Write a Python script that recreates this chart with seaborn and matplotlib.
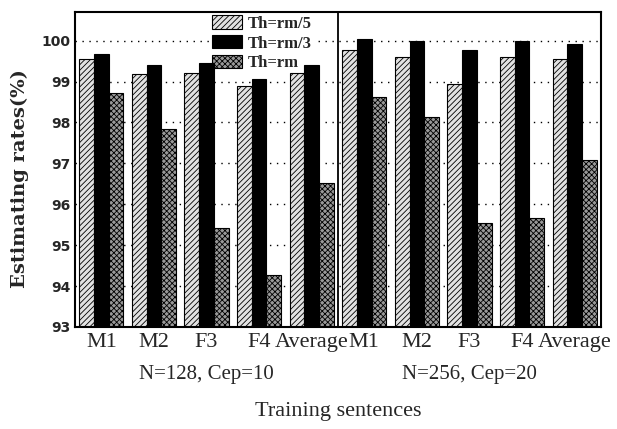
import numpy as np
import pandas as pd
import matplotlib
matplotlib.use("Agg")
import matplotlib.pyplot as plt
import matplotlib.transforms as mtransforms
import seaborn as sns

# values
settings = ["N=128, Cep=10", "N=256, Cep=20"]
speakers = ["M1", "M2", "F3", "F4", "Average"]
thresholds = ["Th=rm/5", "Th=rm/3", "Th=rm"]

rm5_128 = [99.54, 99.19, 99.22, 98.90, 99.22]
rm3_128 = [99.68, 99.41, 99.46, 99.07, 99.41]
rm1_128 = [98.73, 97.85, 95.43, 94.28, 96.53]

rm5_256 = [99.78, 99.61, 98.95, 99.61, 99.56]
rm3_256 = [100.05, 100.0, 99.78, 100.0, 99.93]
rm1_256 = [98.63, 98.14, 95.55, 95.67, 97.09]

values = {
    settings[0]: [rm5_128, rm3_128, rm1_128],
    settings[1]: [rm5_256, rm3_256, rm1_256],
}

rows = []
for s in settings:
    for t, vals in zip(thresholds, values[s]):
        for sp, v in zip(speakers, vals):
            rows.append({"key": s + "|" + sp, "setting": s, "speaker": sp,
                         "threshold": t, "rate": v})
df = pd.DataFrame(rows)
order = [s + "|" + sp for s in settings for sp in speakers]

sns.set_style("white")
plt.rcParams['hatch.linewidth'] = 0.6
plt.rcParams['hatch.color'] = 'black'

fig = plt.figure(figsize=(6.17, 4.29), dpi=100)
ax = fig.add_axes([0.1216, 0.2378, 0.974 - 0.1216, 0.972 - 0.2378])

sns.barplot(
    data=df, x="key", y="rate", hue="threshold",
    order=order, hue_order=thresholds,
    palette=["#e2e2e2", "#000000", "#999999"],
    width=0.84, edgecolor="black", linewidth=0.8,
    legend=False, ax=ax,
)

hatches = ["//////", None, "xxxxxx"]
for cont, h in zip(ax.containers, hatches):
    for p in cont:
        p.set_zorder(2)
        if h:
            p.set_hatch(h)

ax.set_ylim(93, 100.7)
ax.set_yticks(range(93, 101))
ax.set_yticklabels([str(v) for v in range(93, 101)],
                   fontdict={"family": "DejaVu Sans", "weight": "bold", "size": 10})
ax.yaxis.grid(True, color="black", linestyle=(0, (1, 4)), linewidth=1.0)
ax.set_axisbelow(True)
ax.tick_params(axis="y", direction="in", length=3, pad=3)
ax.tick_params(axis="x", length=0, pad=4)

ax.set_xticks(range(len(order)))
ax.set_xticklabels([k.split("|")[1] for k in order],
                   fontdict={"family": "Liberation Serif", "size": 16})
ax.set_xlim(-0.5, len(order) - 0.5)

for sp in ax.spines.values():
    sp.set_color("black")
    sp.set_linewidth(1.5)

ax.axvline(len(speakers) - 0.5, color="black", linewidth=1.3, zorder=3)

trans = mtransforms.blended_transform_factory(ax.transData, ax.transAxes)
for i, s in enumerate(settings):
    ax.text(i * len(speakers) + (len(speakers) - 1) / 2, -0.15, s,
            transform=trans, ha="center", va="center",
            family="Liberation Serif", fontsize=15)

ax.set_xlabel("Training sentences", family="Liberation Serif", fontsize=16,
              labelpad=36)
ax.set_ylabel("Estimating rates(%)", family="DejaVu Serif", fontweight="bold",
              fontsize=14, labelpad=4)
ax.yaxis.set_label_coords(-0.087, 0.47)

leg = ax.legend(ax.containers, thresholds, loc="upper left",
                bbox_to_anchor=(0.255, 1.0), frameon=True,
                prop={"family": "Liberation Serif", "weight": "bold", "size": 12},
                handlelength=1.8, handleheight=0.85, labelspacing=0.2,
                handletextpad=0.3, borderpad=0.1, borderaxespad=0.1)
leg.get_frame().set_facecolor("white")
leg.get_frame().set_edgecolor("white")
leg.get_frame().set_alpha(1)
leg.set_zorder(1)

fig.savefig("out.png", dpi=100)
